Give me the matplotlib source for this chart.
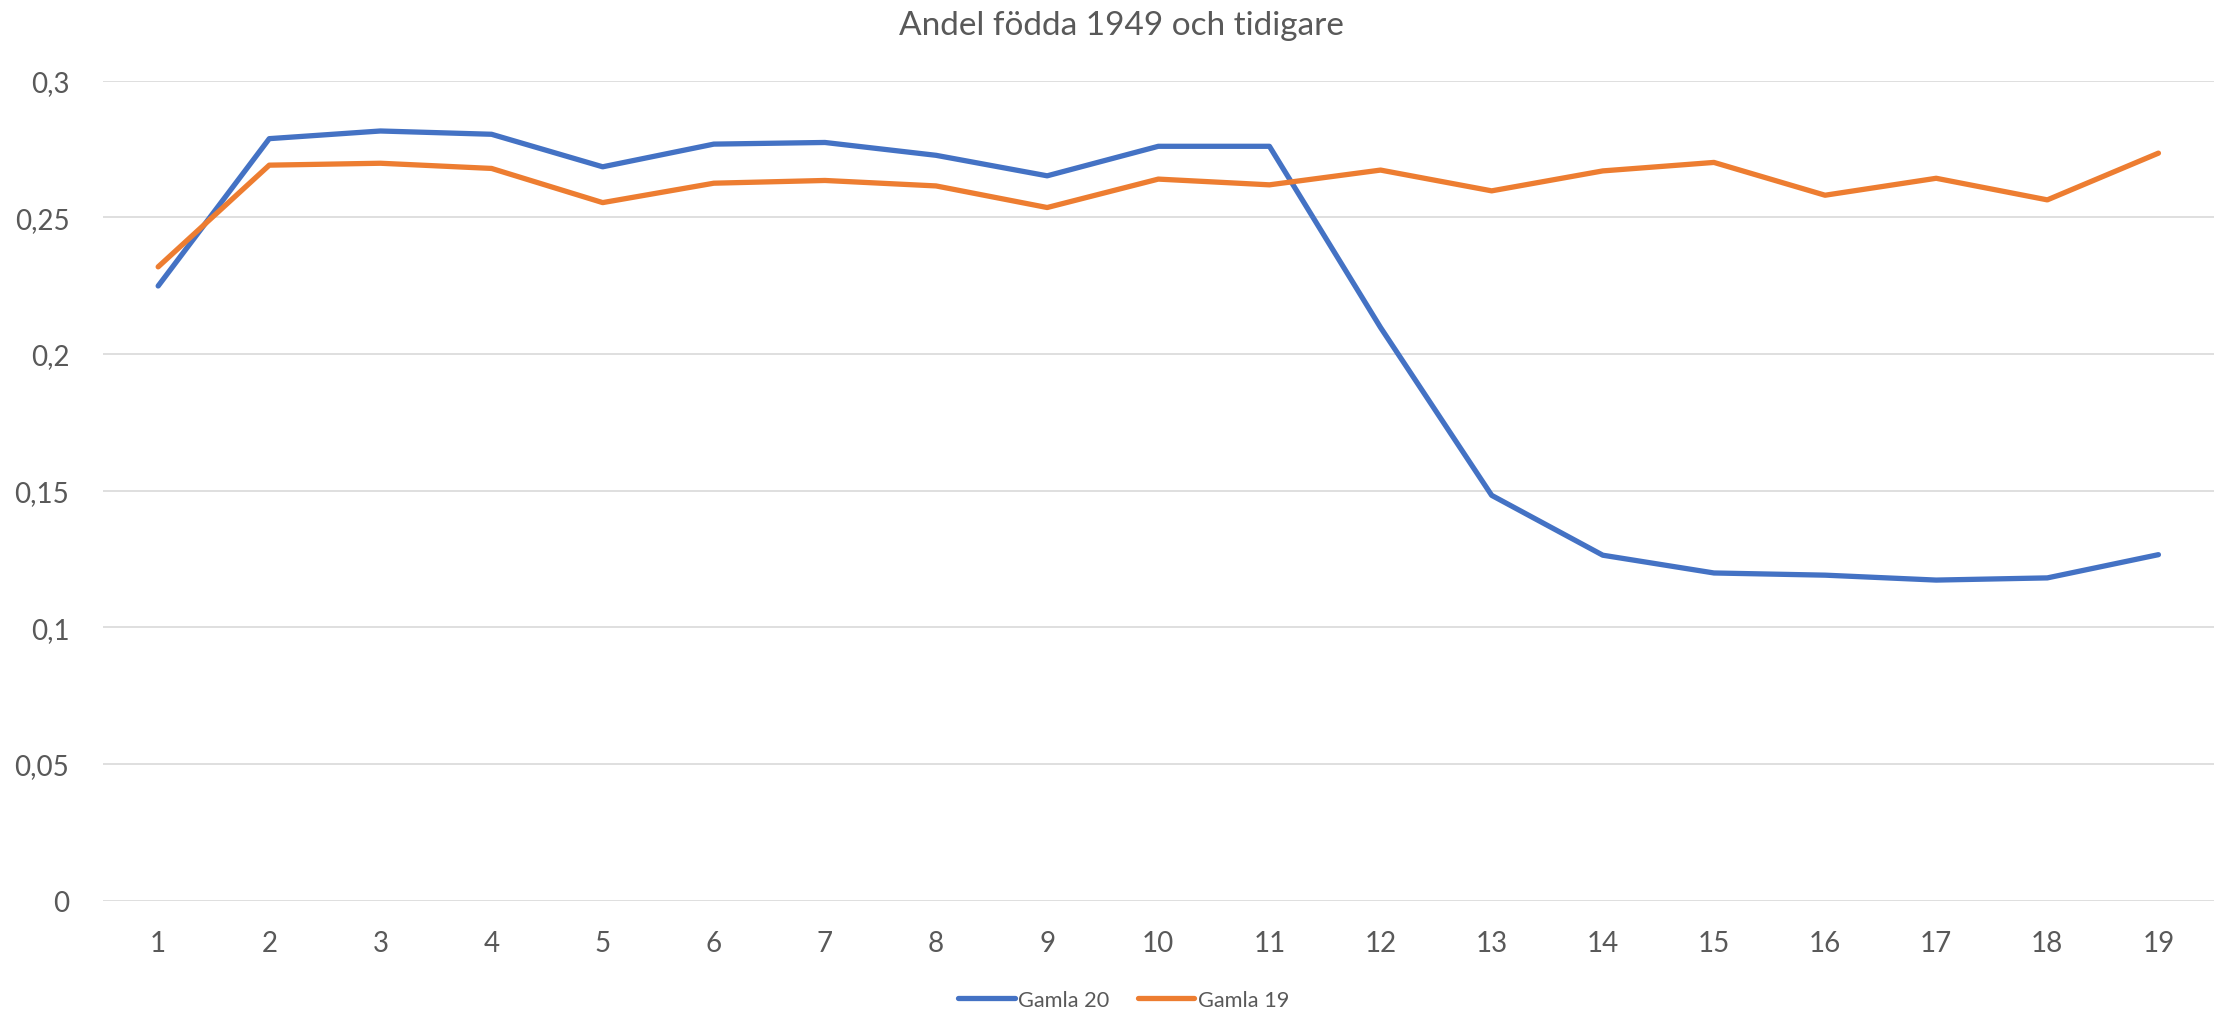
import matplotlib
matplotlib.use("Agg")
import matplotlib.pyplot as plt
from matplotlib.ticker import FuncFormatter

# --- data ---
periods = list(range(1, 20))
gamla_20 = [0.2249, 0.2788, 0.2816, 0.2804, 0.2685, 0.2768, 0.2774, 0.2727, 0.2652, 0.2760,
            0.2760, 0.2097, 0.1483, 0.1264, 0.1199, 0.1191, 0.1173, 0.1181, 0.1266]
gamla_19 = [0.2319, 0.2691, 0.2698, 0.2679, 0.2554, 0.2625, 0.2635, 0.2615, 0.2536, 0.2640,
            0.2619, 0.2673, 0.2597, 0.2670, 0.2701, 0.2581, 0.2643, 0.2564, 0.2735]
y_ticks = [0, 0.05, 0.1, 0.15, 0.2, 0.25, 0.3]

title = "Andel födda 1949 och tidigare"
blue = "#4472C4"
orange = "#ED7D31"
text_col = "#595959"

plt.rcParams['font.family'] = ['Lato', 'DejaVu Sans']

W, H = 2221, 1012
fig = plt.figure(figsize=(W / 100, H / 100), dpi=100)
ax = fig.add_axes([102.6 / W, 1 - 901.7 / H, (2214 - 102.6) / W, (901.7 - 81.7) / H])

ax.plot(periods, gamla_20, color=blue, lw=3.8, label="Gamla 20", solid_capstyle='round', zorder=3)
ax.plot(periods, gamla_19, color=orange, lw=3.8, label="Gamla 19", solid_capstyle='round', zorder=3)

ax.set_xlim(0.5, 19.5)
ax.set_ylim(0, 0.3)
ax.set_xticks(periods)
ax.set_yticks(y_ticks)
ax.yaxis.set_major_formatter(FuncFormatter(lambda v, p: f"{v:g}".replace(".", ",")))
ax.grid(axis='y', color="#D9D9D9", lw=1.2, zorder=0)
ax.tick_params(axis='both', length=0, labelsize=20, labelcolor=text_col)
ax.tick_params(axis='x', pad=21)
ax.tick_params(axis='y', pad=24)
for s in ax.spines.values():
    s.set_visible(False)

fig.text(1121 / W, 1 - 35 / H, title, ha='center', va='baseline', fontsize=24, color=text_col)

leg = fig.legend(loc='center', bbox_to_anchor=(1123.5 / W, 1 - 1001 / H), ncol=2, frameon=False,
                 fontsize=15.7, handlelength=2.6, handletextpad=0.15, columnspacing=1.3)
for t in leg.get_texts():
    t.set_color(text_col)

fig.savefig("out.png", dpi=100)
